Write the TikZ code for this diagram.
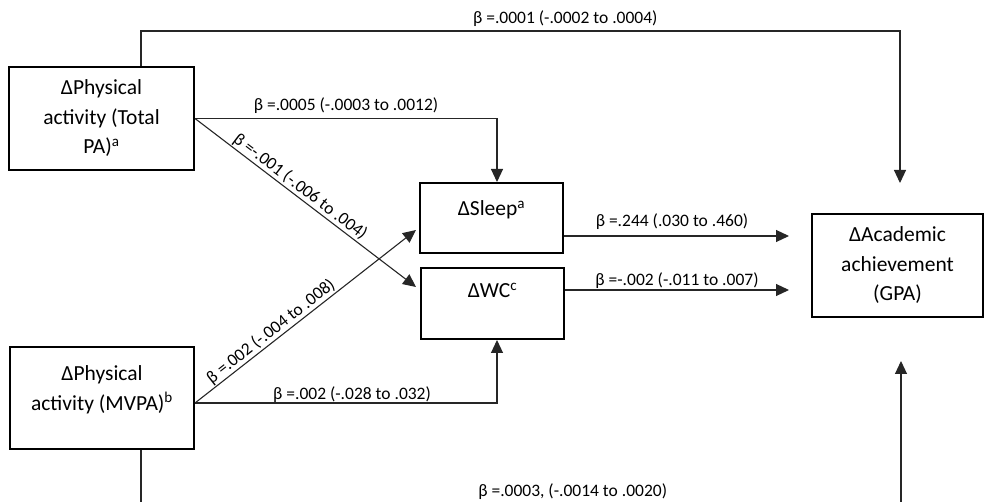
\documentclass[tikz,border=0pt]{standalone}
\usepackage{fontspec}
\setmainfont{Carlito}
\usetikzlibrary{arrows.meta}
% text block pinned to the top of a box: height, width, top gap, lines
\newcommand{\toplines}[4]{\parbox[c][#1][t]{#2}{\vspace*{#3}\centering #4}}
\begin{document}
\begin{tikzpicture}[x=1pt,y=-1pt,
  box/.style={draw=black, line width=2pt, inner sep=0pt,
    font=\fontsize{21.5}{29.5}\selectfont},
  link/.style={draw=black!85, line width=1.1pt},
  arr/.style={link, -{Triangle[length=13pt,width=12pt]}},
  lbl/.style={font=\fontsize{17.5}{20}\selectfont, inner sep=0pt, text=black}]
\useasboundingbox (0,0) rectangle (985,502);
\begin{scope}
\clip (0,0) rectangle (985,502);

% variables
\node[box, align=center, minimum width=185pt, minimum height=103pt] (pa) at (101.5,118.5)
  {ΔPhysical\\activity (Total\\PA)\textsuperscript{a}};
\node[box] (mvpa) at (102,398)
  {\toplines{102pt}{184pt}{19pt}{ΔPhysical\\activity (MVPA)\textsuperscript{b}}};
\node[box] (sleep) at (491.5,218)
  {\toplines{70pt}{143pt}{18pt}{ΔSleep\textsuperscript{a}}};
\node[box] (wc) at (492.5,303.5)
  {\toplines{71pt}{143pt}{15pt}{ΔWC\textsuperscript{c}}};
\node[box, align=center, minimum width=171pt, minimum height=103pt] (gpa) at (897.5,265.5)
  {ΔAcademic\\achievement\\(GPA)};

% free ends of the connectors
\coordinate (topRow) at (141,31);
\coordinate (gpaTop) at (900,183);
\coordinate (sleepTop) at (497,182);
\coordinate (wcDiag) at (416,287);
\coordinate (sleepDiag) at (416,230);
\coordinate (wcBot) at (497,340);
\coordinate (gpaInA) at (789,236);
\coordinate (gpaInB) at (789,290);
\coordinate (botL) at (141,506);
\coordinate (botR) at (901,506);
\coordinate (gpaBot) at (901,361);

% direct paths to academic achievement
\draw[arr] (pa.north -| topRow) -- (topRow)
  -- node[lbl, above=4pt, pos=0.559] {β =.0001 (-.0002 to .0004)} (topRow -| gpaTop)
  -- (gpaTop);
\draw[arr] (mvpa.south -| botL) -- (botL)
  -- node[lbl, above=6pt, pos=0.568] {β =.0003, (-.0014 to .0020)} (botR)
  -- (gpaBot);

% total PA to mediators
\draw[arr] (pa.east)
  -- node[lbl, above=4pt, pos=0.5] {β =.0005 (-.0003 to .0012)} (pa.east -| sleepTop)
  -- (sleepTop);
\draw[arr] (pa.east)
  -- node[lbl, sloped, above=1pt, pos=0.45] {β =-.001 (-.006 to .004)} (wcDiag);

% MVPA to mediators
\draw[arr] ([yshift=-5pt]mvpa.east)
  -- node[lbl, sloped, above=1pt, pos=0.37] {β =.002 (-.004 to .008)} (sleepDiag);
\draw[arr] ([yshift=-5pt]mvpa.east)
  -- node[lbl, above=0pt, pos=0.52] {β =.002 (-.028 to .032)} ([yshift=-5pt]mvpa.east -| wcBot)
  -- (wcBot);

% mediators to academic achievement
\draw[arr] (sleep.east |- gpaInA)
  -- node[lbl, above=6pt, pos=0.48] {β =.244 (.030 to .460)} (gpaInA);
\draw[arr] (wc.east |- gpaInB)
  -- node[lbl, above=0.5pt, pos=0.5] {β =-.002 (-.011 to .007)} (gpaInB);
\end{scope}
\end{tikzpicture}
\end{document}
